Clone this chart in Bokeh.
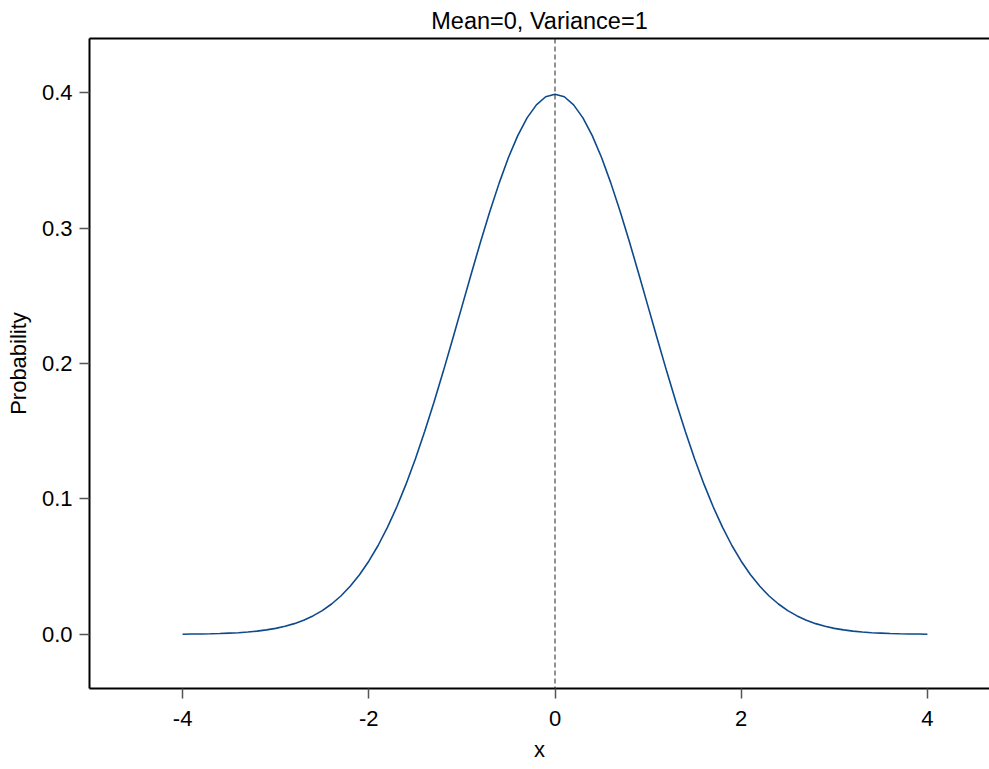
from bokeh.plotting import figure
from bokeh.models import (Range1d, FixedTicker, LinearAxis, Span,
                          ColumnDataSource)
from bokeh.embed import file_html
from bokeh.resources import INLINE

# Standard normal density, sampled every 0.1 from -4 to 4
x_vals = [-4.0, -3.9, -3.8, -3.7, -3.6, -3.5, -3.4, -3.3, -3.2, -3.1,
          -3.0, -2.9, -2.8, -2.7, -2.6, -2.5, -2.4, -2.3, -2.2, -2.1,
          -2.0, -1.9, -1.8, -1.7, -1.6, -1.5, -1.4, -1.3, -1.2, -1.1,
          -1.0, -0.9, -0.8, -0.7, -0.6, -0.5, -0.4, -0.3, -0.2, -0.1,
          0.0,
          0.1, 0.2, 0.3, 0.4, 0.5, 0.6, 0.7, 0.8, 0.9, 1.0,
          1.1, 1.2, 1.3, 1.4, 1.5, 1.6, 1.7, 1.8, 1.9, 2.0,
          2.1, 2.2, 2.3, 2.4, 2.5, 2.6, 2.7, 2.8, 2.9, 3.0,
          3.1, 3.2, 3.3, 3.4, 3.5, 3.6, 3.7, 3.8, 3.9, 4.0]
density = [0.0001, 0.0002, 0.0003, 0.0004, 0.0006, 0.0009, 0.0012, 0.0017, 0.0024, 0.0033,
           0.0044, 0.0060, 0.0079, 0.0104, 0.0136, 0.0175, 0.0224, 0.0283, 0.0355, 0.0440,
           0.0540, 0.0656, 0.0790, 0.0940, 0.1109, 0.1295, 0.1497, 0.1714, 0.1942, 0.2179,
           0.2420, 0.2661, 0.2897, 0.3123, 0.3332, 0.3521, 0.3683, 0.3814, 0.3910, 0.3970,
           0.3989,
           0.3970, 0.3910, 0.3814, 0.3683, 0.3521, 0.3332, 0.3123, 0.2897, 0.2661, 0.2420,
           0.2179, 0.1942, 0.1714, 0.1497, 0.1295, 0.1109, 0.0940, 0.0790, 0.0656, 0.0540,
           0.0440, 0.0355, 0.0283, 0.0224, 0.0175, 0.0136, 0.0104, 0.0079, 0.0060, 0.0044,
           0.0033, 0.0024, 0.0017, 0.0012, 0.0009, 0.0006, 0.0004, 0.0003, 0.0002, 0.0001]
mean = 0.0
x_ticks = [-4, -2, 0, 2, 4]
x_tick_labels = ["-4", "-2", "0", "2", "4"]
y_ticks = [0.0, 0.1, 0.2, 0.3, 0.4]
y_tick_labels = ["0.0", "0.1", "0.2", "0.3", "0.4"]

FONT = "Liberation Sans"

p = figure(width=989, height=769, output_backend="svg", toolbar_location=None,
           x_range=Range1d(-5, 4.667), y_range=Range1d(-0.04, 0.44),
           min_border_left=89, min_border_top=37, min_border_right=0,
           min_border_bottom=81, x_axis_location=None, y_axis_location=None)
p.outline_line_color = None
p.grid.visible = False
p.background_fill_color = "white"
p.border_fill_color = "white"

p.title.text = "Mean=0, Variance=1"
p.title.align = "center"
p.title.offset = 5
p.title.text_font = FONT
p.title.text_font_size = "23.5px"
p.title.text_font_style = "normal"
p.title.text_color = "black"

def style_axis(ax):
    ax.axis_line_color = "black"
    ax.axis_line_width = 2
    ax.major_tick_line_color = "#555555"
    ax.major_tick_line_width = 1.5
    ax.major_tick_in = 0
    ax.major_tick_out = 10
    ax.minor_tick_line_color = None
    ax.major_label_text_font = FONT
    ax.major_label_text_font_size = "22px"
    ax.major_label_text_color = "black"
    ax.axis_label_text_font = FONT
    ax.axis_label_text_font_size = "22px"
    ax.axis_label_text_font_style = "normal"
    ax.axis_label_text_color = "black"

xaxis = LinearAxis(ticker=FixedTicker(ticks=x_ticks), axis_label="x",
                   major_label_overrides=dict(zip(x_ticks, x_tick_labels)))
style_axis(xaxis)
xaxis.major_label_standoff = 12
xaxis.axis_label_standoff = 8
p.add_layout(xaxis, "below")

yaxis = LinearAxis(ticker=FixedTicker(ticks=y_ticks), axis_label="Probability",
                   major_label_overrides=dict(zip(y_ticks, y_tick_labels)))
style_axis(yaxis)
yaxis.major_label_standoff = 7
yaxis.axis_label_standoff = 8
p.add_layout(yaxis, "left")

# top edge of the frame
topaxis = LinearAxis(ticker=FixedTicker(ticks=[]))
topaxis.axis_line_color = "black"
topaxis.axis_line_width = 2
topaxis.major_tick_out = 0
topaxis.major_tick_in = 0
topaxis.minor_tick_line_color = None
topaxis.major_label_text_font_size = "0px"
p.add_layout(topaxis, "above")

p.add_layout(Span(location=mean, dimension="height", line_color="#222222",
                  line_width=1, line_dash="5 3"))

src = ColumnDataSource(dict(x=x_vals, y=density))
p.line("x", "y", source=src, line_color="#0d4a8c", line_width=1.6)

open("out.html", "w").write(file_html(p, INLINE))
